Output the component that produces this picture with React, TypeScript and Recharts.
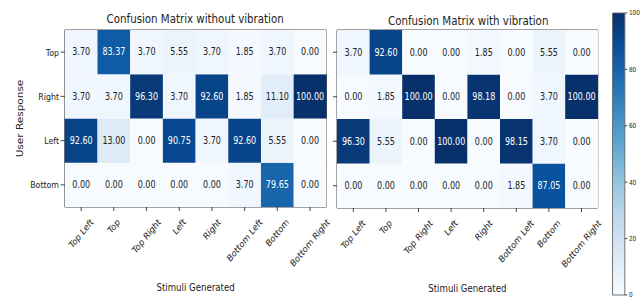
import React from 'react';
import { BarChart, Bar, XAxis, YAxis, Cell, LabelList, ReferenceArea } from 'recharts';

// labels
const stimuli = ['Top Left', 'Top', 'Top Right', 'Left', 'Right', 'Bottom Left', 'Bottom', 'Bottom Right'];
const responses = ['Top', 'Right', 'Left', 'Bottom'];

// without vibration (rows = user response, cols = stimuli)
const noVibTop = [3.7, 83.37, 3.7, 5.55, 3.7, 1.85, 3.7, 0.0];
const noVibRight = [3.7, 3.7, 96.3, 3.7, 92.6, 1.85, 11.1, 100.0];
const noVibLeft = [92.6, 13.0, 0.0, 90.75, 3.7, 92.6, 5.55, 0.0];
const noVibBottom = [0.0, 0.0, 0.0, 0.0, 0.0, 3.7, 79.65, 0.0];

// with vibration
const vibTop = [3.7, 92.6, 0.0, 0.0, 1.85, 0.0, 5.55, 0.0];
const vibRight = [0.0, 1.85, 100.0, 0.0, 98.18, 0.0, 3.7, 100.0];
const vibLeft = [96.3, 5.55, 0.0, 100.0, 0.0, 98.15, 3.7, 0.0];
const vibBottom = [0.0, 0.0, 0.0, 0.0, 0.0, 1.85, 87.05, 0.0];

const colorbarTicks = [0, 20, 40, 60, 80, 100];

// matplotlib "Blues"
const blueStops = ['#f7fbff', '#deebf7', '#c6dbef', '#9ecae1', '#6baed6', '#4292c6', '#2171b5', '#08519c', '#08306b'];

const SX = 0.82; // the source picture is squeezed horizontally
const FONT = '"DejaVu Sans", sans-serif';
const INK = '#222';

function hexToRgb(h: string) {
  const n = parseInt(h.slice(1), 16);
  return [(n >> 16) & 255, (n >> 8) & 255, n & 255];
}

function blues(t: number) {
  const c = Math.max(0, Math.min(1, t)) * (blueStops.length - 1);
  const i = Math.min(Math.floor(c), blueStops.length - 2);
  const f = c - i;
  const a = hexToRgb(blueStops[i]);
  const b = hexToRgb(blueStops[i + 1]);
  const m = a.map((v, k) => Math.round(v + (b[k] - v) * f));
  return `rgb(${m[0]},${m[1]},${m[2]})`;
}

let ctx: CanvasRenderingContext2D | null = null;
function textWidth(s: string, size: number) {
  if (!ctx) ctx = document.createElement('canvas').getContext('2d');
  if (!ctx) return s.length * size * 0.6;
  ctx.font = `${size}px "DejaVu Sans"`;
  return ctx.measureText(s).width;
}

function buildRows(matrix: Record<string, number[]>) {
  return stimuli.map((s, i) => {
    const row: any = { stimulus: s };
    responses.forEach((r) => {
      row[r] = matrix[r][i];
      row[r + 'Cell'] = 1;
    });
    return row;
  });
}

function StimulusTick(props: any) {
  const { x, y, payload } = props;
  const fs = 9.6;
  const len = textWidth(payload.value, fs);
  const h = (len + fs) * Math.SQRT1_2;
  const cy = y + 4 + h / 2;
  return (
    <text x={x} y={cy} textAnchor="middle" dominantBaseline="central" fontSize={fs} fill={INK}
      fontFamily={FONT} transform={`rotate(-45 ${x} ${cy})`}>
      {payload.value}
    </text>
  );
}

function CellLabel(props: any) {
  const { x, y, width, height, value } = props;
  return (
    <text x={x + width / 2} y={y + height / 2} textAnchor="middle" dominantBaseline="central"
      fontSize={9.8} fontFamily={FONT} fill={value > 50 ? '#fff' : INK}>
      {Number(value).toFixed(2)}
    </text>
  );
}

function Matrix({ matrix, width, margin, yWidth, showLabels }: any) {
  const rows = buildRows(matrix);
  return (
    <BarChart width={width} height={301} data={rows} margin={margin} barCategoryGap={0} barGap={0}>
      <XAxis dataKey="stimulus" height={88} interval={0} tick={<StimulusTick />} tickSize={4}
        tickLine={{ stroke: '#333' }} axisLine={false}
        label={{ value: 'Stimuli Generated', position: 'insideBottom', offset: 4, fontSize: 10.5, fill: INK, fontFamily: FONT }} />
      <YAxis type="number" domain={[0, 4]} ticks={[0.5, 1.5, 2.5, 3.5]} interval={0} width={yWidth} tickSize={5}
        axisLine={false} tickLine={{ stroke: '#333' }}
        tick={{ fontSize: 9.6, fill: INK, fontFamily: FONT }}
        tickFormatter={(v: number) => (showLabels ? responses[3 - Math.floor(v)] : '')}
        label={showLabels ? { value: 'User Response', angle: -90, position: 'insideLeft', offset: 12, fontSize: 10.5, fill: INK, fontFamily: FONT, style: { textAnchor: 'middle' } } : undefined} />
      {[...responses].reverse().map((r) => (
        <Bar key={r} dataKey={r + 'Cell'} stackId="m" isAnimationActive={false}>
          {rows.map((d, i) => <Cell key={i} fill={blues(d[r] / 100)} />)}
          <LabelList dataKey={r} content={CellLabel} />
        </Bar>
      ))}
      <ReferenceArea y1={0} y2={4} fill="none" stroke="#333" strokeWidth={1} />
    </BarChart>
  );
}

const titleStyle: React.CSSProperties = {
  position: 'absolute', fontFamily: FONT, fontSize: 12.5, color: INK, whiteSpace: 'nowrap',
  transform: 'translate(-50%, -50%)',
};

export default function App() {
  const noVib = { Top: noVibTop, Right: noVibRight, Left: noVibLeft, Bottom: noVibBottom };
  const vib = { Top: vibTop, Right: vibRight, Left: vibLeft, Bottom: vibBottom };
  const W = 642 / SX;
  return (
    <div style={{ position: 'fixed', left: 0, top: 0, width: 642, height: 301, overflow: 'hidden', background: '#fff' }}>
      <svg width={0} height={0} style={{ position: 'absolute' }}>
        <defs>
          <linearGradient id="bluesGrad" x1="0" y1="1" x2="0" y2="0">
            {blueStops.map((c, i) => (
              <stop key={i} offset={i / (blueStops.length - 1)} stopColor={c} />
            ))}
          </linearGradient>
        </defs>
      </svg>
      <div style={{ position: 'absolute', left: 0, top: 0, width: W, height: 301, transform: `scaleX(${SX})`, transformOrigin: '0 0' }}>
        <div style={{ ...titleStyle, left: 238, top: 18 }}>Confusion Matrix without vibration</div>
        <div style={{ ...titleStyle, left: 571, top: 20 }}>Confusion Matrix with vibration</div>
        <div style={{ position: 'absolute', left: 0, top: 0 }}>
          <Matrix matrix={noVib} width={420} yWidth={67} showLabels
            margin={{ top: 30, right: 22, left: 12, bottom: 6 }} />
        </div>
        <div style={{ position: 'absolute', left: 380, top: 0 }}>
          <Matrix matrix={vib} width={400} yWidth={10} showLabels={false}
            margin={{ top: 30, right: 51, left: 21, bottom: 5 }} />
        </div>
        <div style={{ position: 'absolute', left: 730, top: 0 }}>
          <BarChart width={53} height={301} data={[{ level: 'scale', top: 100 }]} barCategoryGap={0}
            margin={{ top: 13, right: 1, left: 17, bottom: 6 }}>
            <XAxis dataKey="level" hide />
            <YAxis type="number" orientation="right" domain={[0, 100]} ticks={colorbarTicks} interval={0} width={20}
              tickSize={3} axisLine={false} tickLine={{ stroke: '#333' }}
              tick={{ fontSize: 7, fill: INK, fontFamily: FONT }} />
            <Bar dataKey="top" fill="url(#bluesGrad)" stroke="#666" strokeWidth={1} isAnimationActive={false} />
          </BarChart>
        </div>
      </div>
    </div>
  );
}
